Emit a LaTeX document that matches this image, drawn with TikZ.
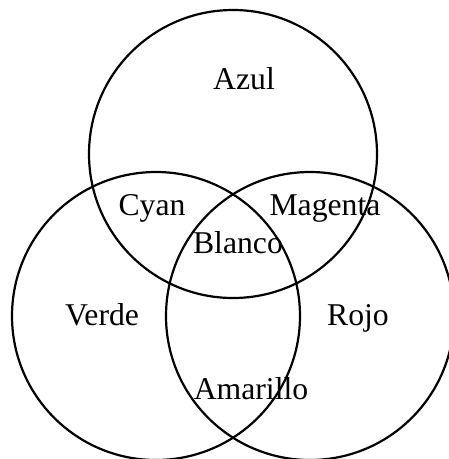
\documentclass[tikz,border=0pt]{standalone}
\usepackage{fontspec}
\setmainfont{Liberation Serif}
\begin{document}
\begin{tikzpicture}[x=1pt,y=-1pt,
  ring/.style={draw=black,line width=2.2pt},
  lbl/.style={anchor=base,inner sep=0pt,font=\fontsize{31.7}{38}\selectfont}]
\useasboundingbox (0,0) rectangle (449,459);
\clip (0,0) rectangle (449,459);
% three overlapping colour circles
\draw[ring] (233,154) circle[radius=144];
\draw[ring] (156,316) circle[radius=144];
\draw[ring] (310,316) circle[radius=144];
% region labels
\node[lbl] (azul) at (244,89) {Azul};
\node[lbl] (cyan) at (152,215) {Cyan};
\node[lbl] (magenta) at (325,215) {Magenta};
\node[lbl] (blanco) at (238,253) {Blanco};
\node[lbl] (verde) at (102,325) {Verde};
\node[lbl] (rojo) at (358,325) {Rojo};
\node[lbl] (amarillo) at (251,399) {Amarillo};
\end{tikzpicture}
\end{document}
